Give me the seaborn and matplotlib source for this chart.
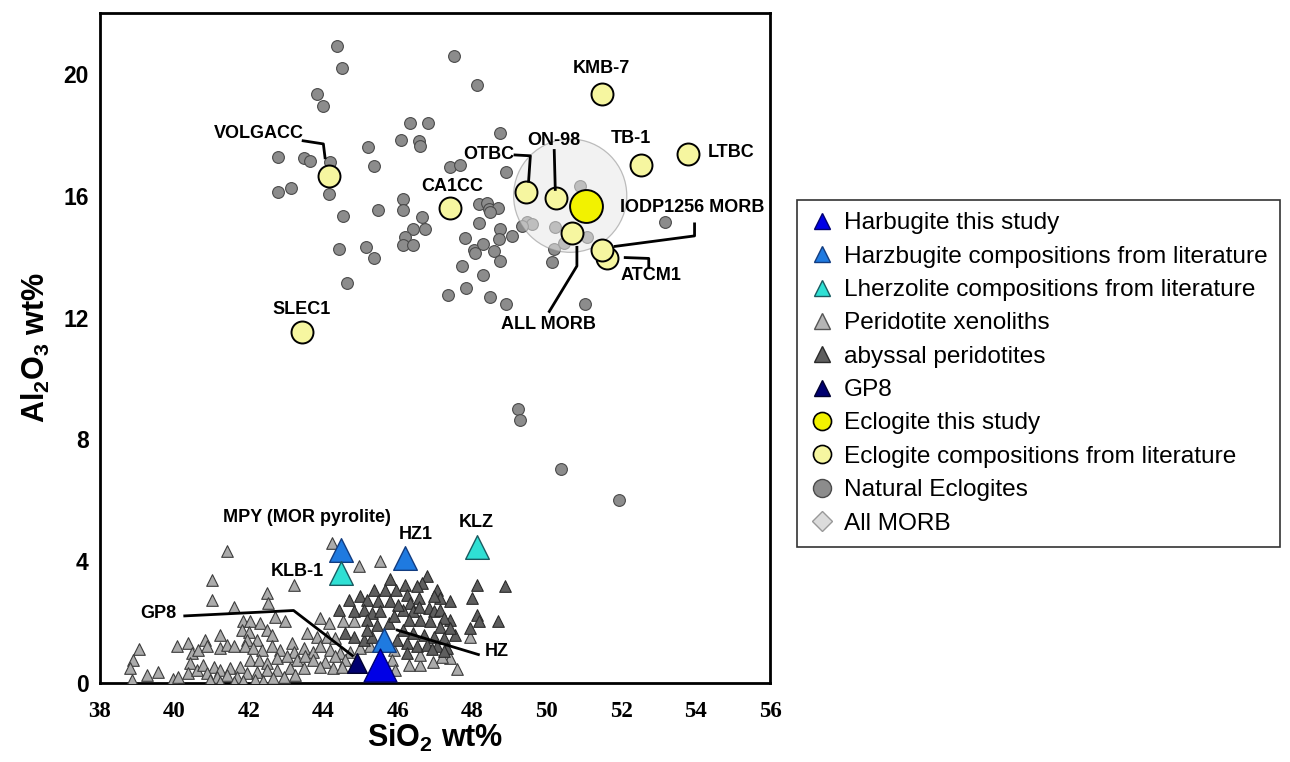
import numpy as np
import pandas as pd
import matplotlib
matplotlib.use("Agg")
import matplotlib.pyplot as plt
import seaborn as sns
from matplotlib.lines import Line2D
from matplotlib.patches import Ellipse

# ---------------- data ----------------
nat_sio2 = [44.36, 44.51, 43.82, 43.99, 47.50, 48.13, 46.32, 46.81, 46.09, 46.58, 46.60, 45.20,
            42.79, 43.47, 43.65, 44.18, 45.37, 47.41, 47.66, 42.79, 43.13, 44.16, 46.15, 46.15,
            45.48, 44.54, 46.64, 46.42, 46.72, 46.20, 46.15, 46.41, 44.41, 45.15, 45.35, 44.63,
            48.17, 48.39, 48.44, 48.17, 47.81, 48.04, 48.29, 47.72, 48.30, 47.36, 47.83, 48.48,
            48.91, 48.75, 48.91, 48.68, 48.48, 48.75, 49.06, 48.71, 48.08, 48.57, 48.75, 49.47,
            49.60, 49.33, 50.19, 50.14, 50.46, 50.23, 50.90, 51.08, 51.04, 53.17, 49.22, 49.29,
            50.39, 51.95]
nat_al2o3 = [20.93, 20.19, 19.34, 18.96, 20.60, 19.64, 18.39, 18.39, 17.84, 17.81, 17.64, 17.59,
             17.28, 17.23, 17.15, 17.10, 16.98, 16.95, 17.00, 16.13, 16.25, 16.07, 15.89, 15.54,
             15.54, 15.32, 15.29, 14.92, 14.92, 14.63, 14.39, 14.39, 14.24, 14.30, 13.94, 13.13,
             15.72, 15.76, 15.56, 15.10, 14.60, 14.21, 14.41, 13.69, 13.39, 12.74, 12.97, 12.67,
             12.43, 18.06, 16.77, 15.61, 15.45, 14.92, 14.68, 14.57, 14.13, 14.19, 13.86, 15.12,
             15.07, 15.01, 14.24, 13.83, 14.46, 14.96, 16.33, 14.63, 12.43, 15.14, 9.00, 8.63,
             7.03, 6.00]

lit_names = ["ATCM1", "VOLGACC", "SLEC1", "CA1CC", "KMB-7", "TB-1", "LTBC", "OTBC", "ON-98",
             "ALL MORB", "IODP1256 MORB"]
lit_sio2 = [51.63, 44.16, 43.42, 47.41, 51.48, 52.52, 53.79, 49.45, 50.26, 50.67, 51.48]
lit_al2o3 = [13.97, 16.66, 11.52, 15.59, 19.34, 17.00, 17.37, 16.13, 15.91, 14.79, 14.22]

this_ecl_sio2 = [51.06]
this_ecl_al2o3 = [15.67]

xeno_sio2 = [39.06, 38.90, 38.81, 38.85, 39.25, 39.57, 39.95, 40.06, 40.37, 40.46, 40.42, 40.10,
             40.37, 40.60, 40.64,
             41.85, 42.03, 41.81, 41.99, 42.30, 42.48, 42.62, 42.21, 41.94, 41.23, 40.82, 40.87,
             41.23, 41.41, 41.59, 41.90, 42.12, 42.35, 42.62, 42.84, 43.15, 43.20, 40.78, 41.05,
             41.23, 41.50, 41.77, 42.03, 42.26, 42.48, 42.75, 43.02, 43.29, 40.87, 41.14, 41.41,
             41.68, 41.94, 42.21, 42.48, 42.75, 43.11, 40.96, 41.23, 41.59, 41.85, 42.17, 42.39,
             42.66, 42.93, 43.24,
             41.02, 41.00, 41.61, 42.48, 42.52, 43.20, 42.70, 42.97, 41.40,
             44.23, 44.97, 45.51, 43.91, 44.14, 43.56, 43.82, 44.09, 44.32, 43.47, 43.73, 43.91,
             44.18, 44.45, 44.72, 44.99, 45.26, 43.51, 43.73, 44.05, 44.32, 44.59, 43.47, 43.91,
             44.27, 44.50, 45.89, 45.84, 45.93, 44.54, 44.81,
             46.60, 47.95, 47.41, 46.60, 46.95, 47.20, 46.30, 47.60]
xeno_al2o3 = [1.11, 0.76, 0.48, 0.10, 0.26, 0.37, 0.12, 1.20, 1.30, 0.98, 0.65, 0.21,
              0.32, 0.43, 1.09,
              2.02, 2.02, 1.74, 1.69, 1.96, 1.74, 1.58, 1.41, 1.41, 1.58, 1.41, 1.20,
              1.14, 1.25, 1.20, 1.20, 1.14, 1.09, 1.20, 1.09, 1.30, 1.03, 0.59, 0.54,
              0.43, 0.48, 0.54, 0.76, 0.76, 0.65, 0.81, 0.87, 0.76, 0.32, 0.21, 0.26,
              0.21, 0.32, 0.37, 0.43, 0.43, 0.48, 0.10, 0.02, 0.02, 0.05, 0.10, 0.05,
              0.15, 0.21, 0.26,
              3.37, 2.73, 2.48, 2.95, 2.62, 3.22, 2.16, 2.02, 4.32,
              4.59, 3.83, 3.99, 2.13, 1.96, 1.63, 1.52, 1.52, 1.47, 1.14, 1.03, 1.20,
              1.09, 0.98, 1.03, 1.14, 1.20, 0.87, 0.76, 0.70, 0.87, 0.76, 0.48, 0.54,
              0.48, 0.54, 1.09, 0.76, 0.43, 2.02, 2.02,
              0.59, 1.52, 0.81, 0.92, 0.70, 0.85, 0.60, 0.45]

abys_sio2 = [45.78, 45.35, 45.66, 45.80, 44.70, 44.99, 45.17, 45.48, 44.41, 44.81, 45.08, 45.30,
             45.53, 45.17, 45.44, 45.75, 44.59, 44.81, 45.08, 45.30, 45.17,
             46.78, 46.65, 46.20, 46.51, 47.05, 47.14, 46.96, 47.41, 46.24, 46.56, 46.33, 46.83,
             46.96, 47.14, 47.41, 47.23, 46.15, 46.42, 46.56, 46.29, 46.60, 46.87, 47.14, 47.54,
             47.41, 46.15, 46.42, 46.69, 46.96, 47.23, 46.24, 46.51, 46.78, 47.05, 47.32, 46.24,
             46.92, 47.23,
             48.14, 47.99, 48.13, 48.17, 47.95, 48.68, 48.89,
             45.95, 46.00, 45.90, 45.98]
abys_al2o3 = [3.41, 3.06, 3.06, 2.68, 2.73, 2.84, 2.73, 2.68, 2.40, 2.35, 2.40, 2.29,
              2.35, 2.07, 1.91, 1.96, 1.63, 1.52, 1.41, 1.52, 1.74,
              3.50, 3.28, 3.22, 3.17, 3.06, 2.79, 2.84, 2.68, 2.89, 2.79, 2.62, 2.46,
              2.35, 2.40, 2.07, 2.13, 2.40, 2.35, 2.51, 2.07, 2.07, 2.02, 1.85, 1.58,
              1.80, 1.74, 1.63, 1.58, 1.52, 1.47, 1.30, 1.20, 1.25, 1.20, 1.14, 0.98,
              1.10, 1.05,
              3.22, 2.79, 2.24, 2.02, 1.80, 2.02, 3.20,
              3.05, 2.55, 2.20, 1.40]

hzlit_names = ["MPY (MOR pyrolite)", "HZ1", "HZ"]
hzlit_sio2 = [44.47, 46.20, 45.62]
hzlit_al2o3 = [4.38, 4.10, 1.41]

lhz_names = ["KLB-1", "KLZ"]
lhz_sio2 = [44.47, 48.12]
lhz_al2o3 = [3.61, 4.48]

gp8_sio2 = [44.90]
gp8_al2o3 = [0.65]

hz_this_sio2 = [45.53]
hz_this_al2o3 = [0.59]

morb_center = (50.63, 16.0)
morb_halfwidth = (1.52, 1.86)

legend_labels = ["Harbugite this study", "Harzbugite compositions from literature",
                 "Lherzolite compositions from literature", "Peridotite xenoliths",
                 "abyssal peridotites", "GP8", "Eclogite this study",
                 "Eclogite compositions from literature", "Natural Eclogites", "All MORB"]

# ---------------- style ----------------
sns.set_style("white")
plt.rcParams["font.family"] = ["Liberation Sans", "DejaVu Sans"]
plt.rcParams["mathtext.default"] = "regular"
for k in ["text.color", "axes.labelcolor", "xtick.color", "ytick.color", "axes.edgecolor"]:
    plt.rcParams[k] = "black"

fig = plt.figure(figsize=(12.9, 7.62), dpi=100)
ax = fig.add_axes([0.0775, 0.1037, 0.5195, 0.8793])

def scat(x, y, marker, s, fc, ec, lw, z):
    df = pd.DataFrame({"x": x, "y": y})
    sns.scatterplot(data=df, x="x", y="y", ax=ax, marker=marker, s=s, color=fc,
                    edgecolor=ec, linewidth=lw, zorder=z, legend=False)

scat(xeno_sio2, xeno_al2o3, "^", 70, "#ababab", "#3c3c3c", 0.8, 3)
scat(abys_sio2, abys_al2o3, "^", 70, "#5e5e5e", "#2a2a2a", 0.8, 3.1)
scat(nat_sio2, nat_al2o3, "o", 72, "#8c8c8c", "#4a4a4a", 0.8, 3)

ell = Ellipse(morb_center, 2 * morb_halfwidth[0], 2 * morb_halfwidth[1], facecolor="#e8e8e8",
              edgecolor="#8a8a8a", linewidth=0.9, alpha=0.55, zorder=3.5)
ax.add_patch(ell)

scat(lit_sio2, lit_al2o3, "o", 250, "#f6f6a0", "black", 1.4, 4)
scat(this_ecl_sio2, this_ecl_al2o3, "o", 560, "#f2f200", "black", 1.4, 4.1)

scat(hzlit_sio2, hzlit_al2o3, "^", 290, "#1f7ae0", "#123c80", 1.0, 5)
scat(lhz_sio2, lhz_al2o3, "^", 290, "#2fe0d4", "#1a5a60", 1.0, 5)
scat(gp8_sio2, gp8_al2o3, "^", 200, "#000070", "#000030", 1.0, 5)
scat(hz_this_sio2, hz_this_al2o3, "^", 560, "#0000e6", "#000070", 1.0, 5.1)

# ---------------- labels & leader lines ----------------
lab_kw = dict(fontsize=13, fontweight="bold", ha="center", va="center", zorder=7, color="black")
labels = [
    ("VOLGACC", 42.26, 18.03), ("SLEC1", 43.42, 12.27), ("CA1CC", 47.45, 16.30),
    ("OTBC", 48.44, 17.34), ("ON-98", 50.20, 17.81), ("KMB-7", 51.47, 20.19),
    ("TB-1", 52.25, 17.88), ("LTBC", 54.94, 17.42), ("IODP1256 MORB", 53.90, 15.61),
    ("ATCM1", 52.80, 13.37), ("ALL MORB", 50.05, 11.78), ("MPY (MOR pyrolite)", 43.55, 5.42),
    ("HZ1", 46.47, 4.87), ("KLZ", 48.11, 5.27), ("KLB-1", 43.30, 3.66),
    ("GP8", 39.57, 2.29), ("HZ", 48.66, 1.03),
]
for t, x, y in labels:
    ax.text(x, y, t, **lab_kw)

leaders = [
    ([43.42, 44.00, 44.05], [17.81, 17.70, 17.20]),
    ([49.11, 49.56, 49.51], [17.34, 17.31, 16.43]),
    ([50.20, 50.23], [17.53, 16.16]),
    ([53.97, 53.97, 51.80], [15.12, 14.68, 14.33]),
    ([52.07, 52.74, 52.74], [13.97, 13.94, 13.59]),
    ([50.05, 50.81, 50.81], [12.16, 13.69, 14.35]),
    ([40.24, 43.20, 44.81], [2.20, 2.38, 0.87]),
    ([45.95, 48.20], [1.75, 0.92]),
]
for xs, ys in leaders:
    ax.plot(xs, ys, color="black", lw=2.0, zorder=6, solid_capstyle="butt")

# ---------------- axes ----------------
ax.set_xlim(38, 56)
ax.set_ylim(0, 22)
ax.set_xticks(np.arange(38, 57, 2))
ax.set_yticks([0, 4, 8, 12, 16, 20])
ax.tick_params(axis="both", direction="in", length=17, width=1.5, top=False, right=False,
               colors="black")
ax.tick_params(axis="y", pad=8)
ax.tick_params(axis="x", pad=13)
for lbl in ax.get_xticklabels():
    lbl.set_fontfamily(["Liberation Serif", "DejaVu Serif"])
    lbl.set_fontweight("bold")
    lbl.set_fontsize(16.5)
for lbl in ax.get_yticklabels():
    lbl.set_fontweight("bold")
    lbl.set_fontsize(16.5)
for sp in ax.spines.values():
    sp.set_linewidth(2.0)
    sp.set_color("black")

ax.set_xlabel("SiO$_2$ wt%", fontsize=22, fontweight="bold", color="black")
ax.set_ylabel("Al$_2$O$_3$ wt%", fontsize=22, fontweight="bold", color="black")
ax.xaxis.set_label_coords(0.5, -0.058)
ax.yaxis.set_label_coords(-0.072, 0.5)

# ---------------- legend ----------------
handles = [
    Line2D([], [], ls="", marker="^", ms=11, mfc="#0000e6", mec="#000070"),
    Line2D([], [], ls="", marker="^", ms=11, mfc="#1f7ae0", mec="#123c80"),
    Line2D([], [], ls="", marker="^", ms=11, mfc="#2fe0d4", mec="#1a5a60"),
    Line2D([], [], ls="", marker="^", ms=11, mfc="#b5b5b5", mec="#555555"),
    Line2D([], [], ls="", marker="^", ms=11, mfc="#5e5e5e", mec="#2a2a2a"),
    Line2D([], [], ls="", marker="^", ms=11, mfc="#000070", mec="#000030"),
    Line2D([], [], ls="", marker="o", ms=13, mfc="#f2f200", mec="black", mew=1.2),
    Line2D([], [], ls="", marker="o", ms=13, mfc="#f6f6a0", mec="black", mew=1.2),
    Line2D([], [], ls="", marker="o", ms=13, mfc="#8c8c8c", mec="#4a4a4a", mew=1.0),
    Line2D([], [], ls="", marker="D", ms=10, mfc="#dcdcdc", mec="#999999", mew=1.0),
]
leg = fig.legend(handles, legend_labels, loc="upper left", bbox_to_anchor=(0.618, 0.7375),
                 bbox_transform=fig.transFigure, fontsize=17.6, frameon=True, fancybox=False,
                 edgecolor="black", handlelength=1.0, handletextpad=0.4, labelspacing=0.46,
                 borderpad=0.5, borderaxespad=0, labelcolor="black")
leg.get_frame().set_linewidth(1.2)

fig.savefig("out.png", dpi=100)
